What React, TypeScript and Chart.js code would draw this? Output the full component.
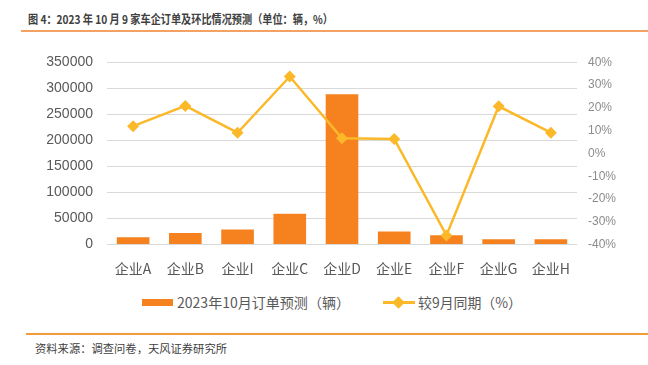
import React, { useEffect, useRef } from "react";
import { Chart, registerables } from "chart.js";

Chart.register(...registerables);

const categories = ["企业A", "企业B", "企业I", "企业C", "企业D", "企业E", "企业F", "企业G", "企业H"];
const orders = [14000, 22000, 29000, 59000, 289000, 25000, 18000, 10000, 10000];
const momPct = [12.0, 20.9, 9.1, 33.8, 6.7, 6.4, -36.0, 20.7, 9.1];
const barLabel = "2023年10月订单预测（辆）";
const lineLabel = "较9月同期（%）";
const title = "图 4：2023 年 10 月 9 家车企订单及环比情况预测（单位：辆，%）";
const source = "资料来源：调查问卷，天风证券研究所";

const BAR_COLOR = "#F5821F";
const LINE_COLOR = "#FBB829";
const FONT = '"Liberation Sans", "Noto Sans CJK SC", sans-serif';
const CJK = '"Noto Sans CJK SC", "Liberation Sans", sans-serif';

function Fit({ text, width, style }: { text: string; width: number; style: React.CSSProperties }) {
  const r = useRef<HTMLSpanElement | null>(null);
  useEffect(() => {
    const el = r.current;
    if (!el) return;
    const w = el.getBoundingClientRect().width;
    if (w > 0) el.style.transform = `scaleX(${width / w})`;
  }, [text, width]);
  return (
    <span ref={r} style={{ ...style, position: "absolute", display: "inline-block", whiteSpace: "nowrap", transformOrigin: "left center" }}>
      {text}
    </span>
  );
}

export default function App() {
  const ref = useRef<HTMLCanvasElement | null>(null);

  useEffect(() => {
    if (!ref.current) return;
    const chart = new Chart(ref.current, {
      type: "bar",
      data: {
        labels: categories,
        datasets: [
          {
            type: "line",
            label: lineLabel,
            data: momPct,
            yAxisID: "y1",
            borderColor: LINE_COLOR,
            backgroundColor: LINE_COLOR,
            borderWidth: 2.5,
            pointStyle: "rectRot",
            pointRadius: 6,
            pointBorderWidth: 0,
            tension: 0,
            order: 0,
          } as any,
          {
            type: "bar",
            label: barLabel,
            data: orders,
            yAxisID: "y",
            backgroundColor: BAR_COLOR,
            categoryPercentage: 1,
            barPercentage: 0.625,
            order: 1,
          },
        ],
      },
      options: {
        animation: false,
        responsive: false,
        maintainAspectRatio: false,
        layout: { padding: { top: 18.5, left: 0, right: 0, bottom: 0 } },
        plugins: { legend: { display: false }, tooltip: { enabled: false } },
        scales: {
          x: {
            grid: { display: false },
            border: { display: false },
            ticks: { color: "#595959", font: { family: CJK, size: 14 }, padding: 8, maxRotation: 0 },
            afterFit: (s: any) => { s.height = 45.5; },
          },
          y: {
            position: "left",
            min: 0,
            max: 350000,
            grid: { color: "#D9D9D9", lineWidth: 1, drawTicks: false },
            border: { display: false },
            ticks: {
              stepSize: 50000,
              color: "#595959",
              font: { family: FONT, size: 14 },
              padding: 14,
              callback: (v: any) => String(v),
            },
            afterFit: (s: any) => { s.width = 107; },
          },
          y1: {
            position: "right",
            min: -40,
            max: 40,
            grid: { display: false, drawTicks: false },
            border: { display: false },
            ticks: {
              stepSize: 10,
              color: "#8C8C8C",
              font: { family: FONT, size: 12 },
              padding: 11,
              callback: (v: any) => v + "%",
            },
            afterFit: (s: any) => { s.width = 71; },
          },
        },
      },
    });
    return () => chart.destroy();
  }, []);

  const legendText: React.CSSProperties = { fontFamily: CJK, fontSize: 14, color: "#595959", lineHeight: "18px", top: 293 };

  return (
    <div style={{ position: "absolute", left: 0, top: 0, width: 648, height: 365, background: "#fff", overflow: "hidden" }}>
      <Fit text={title} width={305} style={{ left: 28, top: 10, fontFamily: CJK, fontWeight: "bold", fontSize: 12, color: "#404040", lineHeight: "18px" }} />
      <div style={{ position: "absolute", left: 21, top: 30, width: 627, height: 1.5, background: "#F4A263" }} />
      <canvas ref={ref} width={648} height={250} style={{ position: "absolute", left: 0, top: 40, width: 648, height: 250 }} />
      <div style={{ position: "absolute", left: 142, top: 299, width: 31, height: 7, background: BAR_COLOR }} />
      <Fit text={barLabel} width={173} style={{ ...legendText, left: 177 }} />
      <div style={{ position: "absolute", left: 383, top: 301, width: 32, height: 2.5, background: LINE_COLOR }} />
      <div style={{ position: "absolute", left: 394, top: 297.5, width: 9, height: 9, background: LINE_COLOR, transform: "rotate(45deg)" }} />
      <Fit text={lineLabel} width={104} style={{ ...legendText, left: 418 }} />
      <div style={{ position: "absolute", left: 26, top: 333, width: 622, height: 1.5, background: "#F39A3A" }} />
      <Fit text={source} width={192} style={{ left: 35, top: 340, fontFamily: CJK, fontSize: 11.3, color: "#404040", lineHeight: "16px" }} />
    </div>
  );
}
